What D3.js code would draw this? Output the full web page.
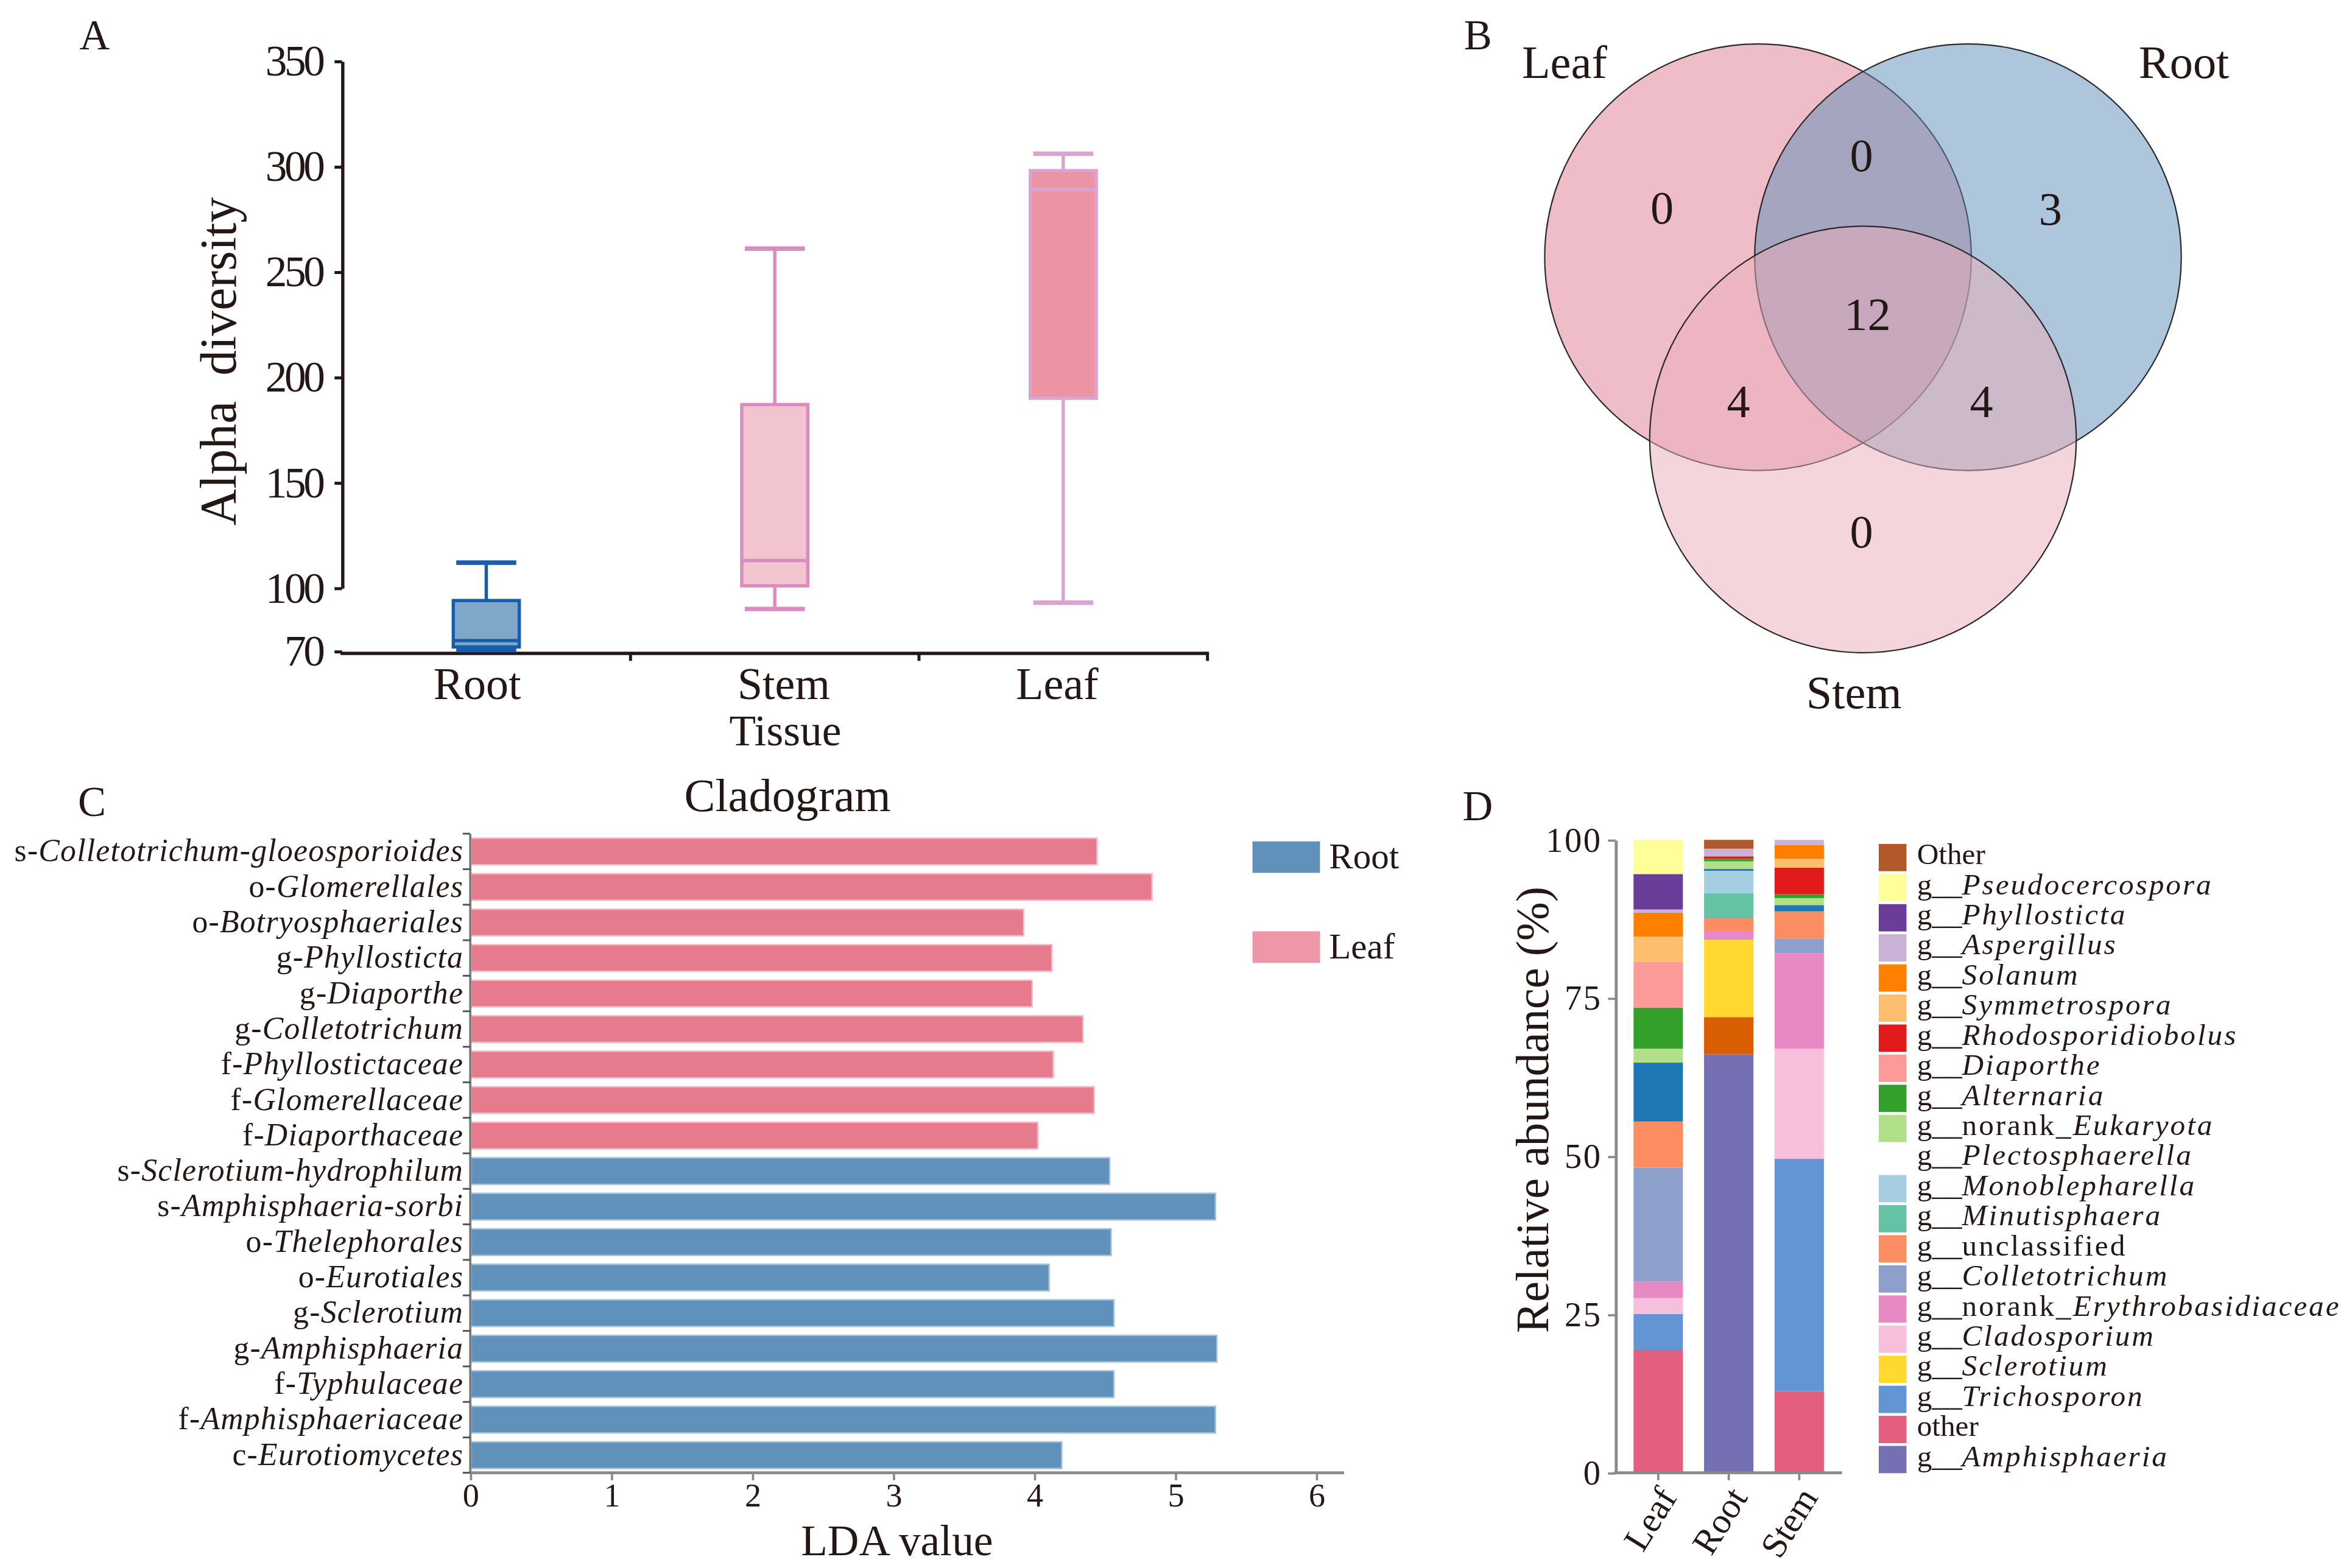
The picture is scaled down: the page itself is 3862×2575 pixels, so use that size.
<!DOCTYPE html>
<html>
<head>
<meta charset="utf-8">
<script src="https://cdn.jsdelivr.net/npm/d3@7"></script>
<style>
body { margin: 0; background: #fff; }
svg { display: block; }
text { font-family: "Liberation Serif", "Times New Roman", serif; fill: #231815; }
</style>
</head>
<body>
<div id="fig"></div>
<script>
// ---- panel A : alpha diversity box plot
const tissues = ["Root", "Stem", "Leaf"];
const boxMin = [70.5, 90, 93];
const boxQ1 = [72, 101, 190];
const boxMed = [75, 113, 289];
const boxQ3 = [94, 187, 298];
const boxMax = [112, 261, 306];
const alphaTicks = [70, 100, 150, 200, 250, 300, 350];

// ---- panel B : venn
const vennSets = ["Leaf", "Root", "Stem"];
const vennRegions = ["Leaf", "Root", "Stem", "Leaf&Root", "Leaf&Stem", "Root&Stem", "All"];
const vennCounts = [0, 3, 0, 0, 4, 4, 12];

// ---- panel C : LDA
const ldaPrefix = ["s", "o", "o", "g", "g", "g", "f", "f", "f", "s", "s", "o", "o", "g", "g", "f", "f", "c"];
const ldaTaxa = ["Colletotrichum-gloeosporioides", "Glomerellales", "Botryosphaeriales", "Phyllosticta",
  "Diaporthe", "Colletotrichum", "Phyllostictaceae", "Glomerellaceae", "Diaporthaceae",
  "Sclerotium-hydrophilum", "Amphisphaeria-sorbi", "Thelephorales", "Eurotiales", "Sclerotium",
  "Amphisphaeria", "Typhulaceae", "Amphisphaeriaceae", "Eurotiomycetes"];
const ldaValues = [4.44, 4.83, 3.92, 4.12, 3.98, 4.34, 4.13, 4.42, 4.02,
  4.53, 5.28, 4.54, 4.10, 4.56, 5.29, 4.56, 5.28, 4.19];
const ldaGroup = ["Leaf", "Leaf", "Leaf", "Leaf", "Leaf", "Leaf", "Leaf", "Leaf", "Leaf",
  "Root", "Root", "Root", "Root", "Root", "Root", "Root", "Root", "Root"];
const ldaTicks = [0, 1, 2, 3, 4, 5, 6];
const ldaLegend = ["Root", "Leaf"];

// ---- panel D : relative abundance, stacked bottom -> top
const samples = ["Leaf", "Root", "Stem"];
const genera = ["g__Amphisphaeria", "unlisted", "other", "g__Trichosporon", "g__Sclerotium",
  "g__Cladosporium", "g__norank_Erythrobasidiaceae", "g__Colletotrichum", "g__unclassified",
  "g__Minutisphaera", "g__Monoblepharella", "g__Plectosphaerella", "g__norank_Eukaryota",
  "g__Alternaria", "g__Diaporthe", "g__Rhodosporidiobolus", "g__Symmetrospora", "g__Solanum",
  "g__Aspergillus", "g__Phyllosticta", "g__Pseudocercospora", "Other"];
const leafAbund = [0, 0, 19.4, 5.7, 0, 2.5, 2.6, 18.0, 7.3, 0, 0, 9.3, 2.2, 6.5, 7.2, 0, 4.0, 3.8, 0.5, 5.6, 5.4, 0];
const rootAbund = [66.1, 5.9, 0, 0, 12.2, 0, 1.3, 0, 2.1, 4.0, 3.5, 0.3, 1.2, 0.4, 0, 0.4, 0, 0, 1.2, 0, 0, 1.4];
const stemAbund = [0, 0, 12.9, 36.7, 0, 17.4, 15.1, 2.3, 4.3, 0, 0, 1.0, 1.1, 0.6, 0, 4.2, 1.4, 2.2, 0.8, 0, 0, 0];
const generaColors = ["#7570b3", "#d95f02", "#e45f7f", "#6394d4", "#ffd92f", "#f7bfdc", "#e78ac3",
  "#8da0cb", "#fc8d62", "#66c2a5", "#a6cee3", "#1f78b4", "#b2df8a", "#33a02c", "#fb9a99",
  "#e31a1c", "#fdbf6f", "#ff7f00", "#cab2d6", "#6a3d9a", "#ffff99", "#b15928"];
const abundTicks = [0, 25, 50, 75, 100];
const noSwatch = ["g__Plectosphaerella"];

const W = 1568, H = 1045.5;
const svg = d3.select("#fig").append("svg")
  .attr("width", 3862).attr("height", 2575)
  .attr("viewBox", `0 0 ${W} ${H}`);

function panelLetter(t, x, y) {
  svg.append("text").attr("x", x).attr("y", y).attr("font-size", 28).text(t);
}

// ================= A =================
panelLetter("A", 53, 33);
const yA = d3.scaleLinear().domain([100, 350]).range([392, 40.7]);
const xA = d3.scaleBand().domain(tissues).range([228, 805]);
const boxStroke = ["#1a5ca8", "#d98cc0", "#dba3cf"];
const boxFill = ["#7fa7c9", "#f2c4cf", "#ea94a4"];
const gA = svg.append("g");

const axYA = gA.append("g").attr("transform", "translate(228,0)")
  .call(d3.axisLeft(yA).tickValues(alphaTicks).tickSize(5).tickSizeOuter(0).tickPadding(8));
axYA.select(".domain").attr("stroke", "#231815").attr("stroke-width", 2.2);
axYA.selectAll(".tick line").attr("stroke", "#231815").attr("stroke-width", 2);
axYA.selectAll(".tick text").attr("font-size", 29).attr("letter-spacing", -1.8)
  .attr("font-family", "Liberation Serif").attr("fill", "#231815");

const baseA = yA(70) + 1.5;
gA.append("line").attr("x1", 227).attr("x2", 806).attr("y1", baseA).attr("y2", baseA)
  .attr("stroke", "#231815").attr("stroke-width", 2.2);
gA.selectAll(".xtick").data(tissues).enter().append("line")
  .attr("x1", d => xA(d) + xA.bandwidth()).attr("x2", d => xA(d) + xA.bandwidth())
  .attr("y1", baseA).attr("y2", baseA + 5).attr("stroke", "#231815").attr("stroke-width", 2);
gA.selectAll(".xlab").data(tissues).enter().append("text")
  .attr("x", (d, i) => xA(d) + xA.bandwidth() / 2 - [6, -6, 4][i]).attr("y", 466)
  .attr("text-anchor", "middle").attr("font-size", 30).text(d => d);
gA.append("text").attr("x", xA("Stem") + xA.bandwidth() / 2 + 7).attr("y", 497)
  .attr("text-anchor", "middle").attr("font-size", 29).text("Tissue");
gA.append("text").attr("transform", "translate(157,241) rotate(-90)")
  .attr("text-anchor", "middle").attr("font-size", 34).attr("xml:space", "preserve")
  .text("Alpha  diversity");

const bw = 44;
tissues.forEach((t, i) => {
  const cx = xA(t) + xA.bandwidth() / 2;
  const g = gA.append("g").attr("stroke", boxStroke[i]).attr("stroke-width", 2.2);
  g.append("line").attr("x1", cx).attr("x2", cx).attr("y1", yA(boxMax[i])).attr("y2", yA(boxQ3[i]));
  g.append("line").attr("x1", cx).attr("x2", cx).attr("y1", yA(boxQ1[i])).attr("y2", yA(boxMin[i]));
  g.append("line").attr("x1", cx - 20).attr("x2", cx + 20).attr("y1", yA(boxMax[i])).attr("y2", yA(boxMax[i])).attr("stroke-width", 3);
  g.append("line").attr("x1", cx - 20).attr("x2", cx + 20).attr("y1", yA(boxMin[i])).attr("y2", yA(boxMin[i])).attr("stroke-width", 3);
  g.append("rect").attr("x", cx - bw / 2).attr("width", bw)
    .attr("y", yA(boxQ3[i])).attr("height", yA(boxQ1[i]) - yA(boxQ3[i]))
    .attr("fill", boxFill[i]);
  g.append("line").attr("x1", cx - bw / 2).attr("x2", cx + bw / 2).attr("y1", yA(boxMed[i])).attr("y2", yA(boxMed[i]));
});

// ================= B =================
panelLetter("B", 976, 33);
const vennCircles = [
  { set: "Leaf", cx: 1172, cy: 171.5, fill: "#e07b91" },
  { set: "Root", cx: 1312, cy: 171.5, fill: "#5b8db8" },
  { set: "Stem", cx: 1242, cy: 293, fill: "#ebabb9" }
];
svg.append("g").selectAll("circle").data(vennCircles).enter().append("circle")
  .attr("cx", d => d.cx).attr("cy", d => d.cy).attr("r", 142.2)
  .attr("fill", d => d.fill).attr("fill-opacity", 0.5)
  .attr("stroke", "#2b2b2b").attr("stroke-width", 0.9);
const vennLabelPos = { Leaf: [1043, 52], Root: [1456, 52], Stem: [1236, 472] };
svg.append("g").selectAll("text").data(vennSets).enter().append("text")
  .attr("x", d => vennLabelPos[d][0]).attr("y", d => vennLabelPos[d][1])
  .attr("text-anchor", "middle").attr("font-size", 31).text(d => d);
const vennCountPos = [[1108, 149], [1367, 150], [1241, 365], [1241, 114], [1159, 278], [1321, 278], [1245, 220]];
svg.append("g").selectAll("text").data(vennRegions).enter().append("text")
  .attr("x", (d, i) => vennCountPos[i][0]).attr("y", (d, i) => vennCountPos[i][1])
  .attr("text-anchor", "middle").attr("font-size", 31).text((d, i) => vennCounts[i]);

// ================= C =================
panelLetter("C", 52, 544);
const gC = svg.append("g");
const xC = d3.scaleLinear().domain([0, 6]).range([313.5, 877.5]);
const yC = d3.scaleBand().domain(d3.range(ldaTaxa.length)).range([556, 982]).paddingInner(0.25).paddingOuter(0.12);
const ldaFill = { Leaf: "#e77b8e", Root: "#5f91ba" };
const ldaEdge = { Leaf: "#f4bcc6", Root: "#a8c4dc" };
const ldaLegendFill = { Leaf: "#ee97a6", Root: "#5f91ba" };

gC.selectAll("rect.bar").data(ldaValues).enter().append("rect")
  .attr("x", xC(0) + 0.5).attr("y", (d, i) => yC(i))
  .attr("width", d => xC(d) - xC(0)).attr("height", yC.bandwidth())
  .attr("fill", (d, i) => ldaFill[ldaGroup[i]])
  .attr("stroke", (d, i) => ldaEdge[ldaGroup[i]]).attr("stroke-width", 1);

const axXC = gC.append("g").attr("transform", "translate(0,982)")
  .call(d3.axisBottom(xC).tickValues(ldaTicks).tickFormat(d3.format("d")).tickSize(5).tickSizeOuter(0).tickPadding(2));
axXC.select(".domain").attr("d", `M${xC(0)},0H896`).attr("stroke", "#8a8a8a").attr("stroke-width", 2);
axXC.selectAll(".tick line").attr("stroke", "#8a8a8a").attr("stroke-width", 1.5);
axXC.selectAll(".tick text").attr("font-size", 22).attr("fill", "#4a4a4a").attr("font-family", "Liberation Serif");

gC.append("line").attr("x1", xC(0)).attr("x2", xC(0)).attr("y1", 556).attr("y2", 982)
  .attr("stroke", "#7a7a7a").attr("stroke-width", 1.5);
const bounds = d3.range(ldaTaxa.length + 1).map(i => i < ldaTaxa.length ? yC(i) - yC.step() * yC.paddingInner() / 2 : 982);
gC.selectAll("line.yt").data(bounds).enter().append("line")
  .attr("x1", xC(0) - 5).attr("x2", xC(0)).attr("y1", d => d).attr("y2", d => d)
  .attr("stroke", "#555").attr("stroke-width", 1.2);

const labC = gC.selectAll("text.lab").data(ldaTaxa).enter().append("text")
  .attr("x", 309).attr("y", (d, i) => yC(i) + yC.bandwidth() / 2 + 6.5)
  .attr("text-anchor", "end").attr("font-size", 21).attr("letter-spacing", 0.5);
labC.append("tspan").text((d, i) => ldaPrefix[i] + "-");
labC.append("tspan").attr("font-style", "italic").text(d => d);

gC.append("text").attr("x", 525).attr("y", 541).attr("text-anchor", "middle").attr("font-size", 31).text("Cladogram");
gC.append("text").attr("x", 598).attr("y", 1037).attr("text-anchor", "middle").attr("font-size", 29).text("LDA value");

const legC = gC.selectAll("g.leg").data(ldaLegend).enter().append("g")
  .attr("transform", (d, i) => `translate(835,${561 + i * 60})`);
legC.append("rect").attr("width", 45).attr("height", 21).attr("fill", d => ldaLegendFill[d]);
legC.append("text").attr("x", 51).attr("y", 18).attr("font-size", 24).text(d => d);

// ================= D =================
panelLetter("D", 975, 547);
const gD = svg.append("g");
const yD = d3.scaleLinear().domain([0, 100]).range([982, 560]);
const xD = d3.scaleBand().domain(samples).range([1077, 1228]).paddingInner(0.3).paddingOuter(0.256);
const colorD = d3.scaleOrdinal().domain(genera).range(generaColors);
const abundBySample = [leafAbund, rootAbund, stemAbund];
const rowsD = samples.map((s, si) => {
  const o = { sample: s };
  genera.forEach((g, gi) => { o[g] = abundBySample[si][gi]; });
  return o;
});
const stackD = d3.stack().keys(genera)(rowsD);
gD.selectAll("g.layer").data(stackD).enter().append("g")
  .attr("fill", d => colorD(d.key))
  .selectAll("rect").data(d => d).enter().append("rect")
  .attr("x", d => xD(d.data.sample)).attr("width", xD.bandwidth())
  .attr("y", d => yD(d[1])).attr("height", d => yD(d[0]) - yD(d[1]));

const axYD = gD.append("g").attr("transform", "translate(1077,0)")
  .call(d3.axisLeft(yD).tickValues(abundTicks).tickSize(5).tickSizeOuter(0).tickPadding(4));
axYD.select(".domain").attr("stroke", "#8a8a8a").attr("stroke-width", 2);
axYD.selectAll(".tick line").attr("stroke", "#8a8a8a").attr("stroke-width", 1.5);
axYD.selectAll(".tick text").attr("font-size", 23).attr("letter-spacing", 1).attr("fill", "#231815").attr("font-family", "Liberation Serif");

const axXD = gD.append("g").attr("transform", "translate(0,982)")
  .call(d3.axisBottom(xD).tickSize(5).tickSizeOuter(0).tickPadding(6));
axXD.select(".domain").attr("d", "M1076,0H1228").attr("stroke", "#8a8a8a").attr("stroke-width", 2);
axXD.selectAll(".tick line").attr("stroke", "#8a8a8a").attr("stroke-width", 1.5);
axXD.selectAll(".tick text").attr("font-size", 24).attr("fill", "#231815").attr("font-family", "Liberation Serif")
  .attr("text-anchor", "end").attr("dy", "0.35em")
  .attr("transform", "translate(6,12) rotate(-58)").attr("x", 0).attr("y", 0);

gD.append("text").attr("transform", "translate(1032,740) rotate(-90)")
  .attr("text-anchor", "middle").attr("font-size", 31).text("Relative abundance (%)");

// legend, top -> bottom
const legendGenera = genera.filter(g => g !== "unlisted").reverse();
const legD = gD.selectAll("g.legd").data(legendGenera).enter().append("g")
  .attr("transform", (d, i) => `translate(1252.5,${562.7 + i * 20.07})`);
legD.filter(d => !noSwatch.includes(d)).append("rect")
  .attr("width", 18.5).attr("height", 18.2).attr("fill", d => colorD(d));
const legT = legD.append("text").attr("x", 25.5).attr("y", 13.5).attr("font-size", 20);
legT.each(function (d) {
  const t = d3.select(this);
  if (!d.startsWith("g__")) { t.text(d); return; }
  let rest = d.slice(3);
  t.append("tspan").text("g__");
  const named = t.append("tspan").attr("letter-spacing", 1.2);
  if (rest.startsWith("norank_")) { named.append("tspan").text("norank_"); rest = rest.slice(7); }
  if (rest === "unclassified") { named.append("tspan").text(rest); return; }
  named.append("tspan").attr("font-style", "italic").text(rest);
});
</script>
</body>
</html>
